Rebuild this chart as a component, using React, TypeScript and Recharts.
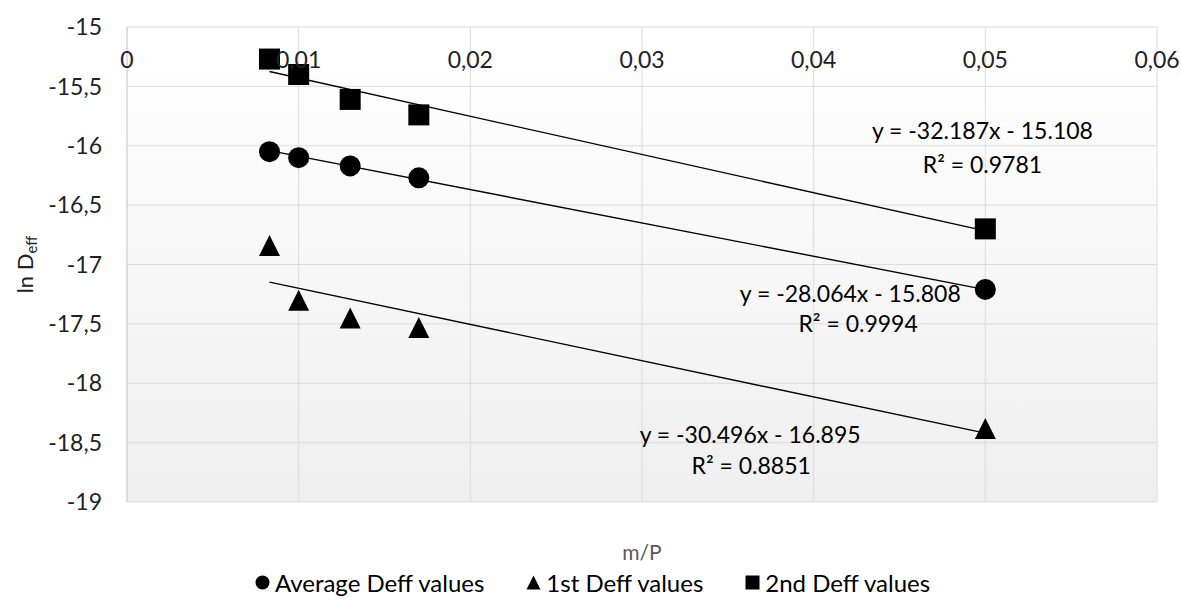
import { CartesianGrid, Legend, ReferenceDot, Scatter, ScatterChart, XAxis, YAxis } from "recharts";

const FONT = "Lato, 'Open Sans', sans-serif";

// m/P ratios and ln Deff readings for each run
const mpValues = [0.0083, 0.01, 0.013, 0.017, 0.05];
const averageDeff = [-16.05, -16.1, -16.17, -16.27, -17.21];
const firstDeff = [-16.84, -17.3, -17.45, -17.53, -18.38];
const secondDeff = [-15.27, -15.4, -15.61, -15.74, -16.7];

const seriesNames = ["Average Deff values", "1st Deff values", "2nd Deff values"];
const seriesMarkers = ["circle", "triangle", "square"];

// linear fits reported for each series
const trendSlopes = [-28.064, -30.496, -32.187];
const trendIntercepts = [-15.808, -16.895, -15.108];
const trendR2 = ["0.9994", "0.8851", "0.9781"];

const xTicks = [0, 0.01, 0.02, 0.03, 0.04, 0.05, 0.06];
const yTicks = [-15, -15.5, -16, -16.5, -17, -17.5, -18, -18.5, -19];

const seriesValues = [averageDeff, firstDeff, secondDeff];

// where each fit's equation and R² sit, in data units
const eqAnchors = [
  { eq: [0.04213, -17.265], r2: [0.04259, -17.518] },
  { eq: [0.0363, -18.453], r2: [0.03636, -18.714] },
  { eq: [0.04983, -15.893], r2: [0.04983, -16.179] },
];

// plot box in pixels, shared by the chart margins and the shaded backdrop
const W = 1181;
const H = 609;
const PLOT = { left: 127, top: 27, right: 1157, bottom: 502 };
const LEGEND_H = 30;
const LEGEND_GAP = 12;

const comma = (v: number) => String(v).replace(".", ",");

const points = (values: number[]) => mpValues.map((x, i) => ({ x, y: values[i] }));

const trendPoints = (i: number) => {
  const x0 = Math.min(...mpValues);
  const x1 = Math.max(...mpValues);
  return [x0, x1].map((x) => ({ x, y: trendSlopes[i] * x + trendIntercepts[i] }));
};

const equation = (i: number) =>
  `y = ${trendSlopes[i].toFixed(3)}x - ${Math.abs(trendIntercepts[i]).toFixed(3)}`;

const Marker = ({ cx, cy, kind, s = 21 }: any) => {
  const h = s / 2;
  if (kind === "circle") return <circle cx={cx} cy={cy} r={h} fill="#000" />;
  if (kind === "square") return <rect x={cx - h} y={cy - h} width={s} height={s} fill="#000" />;
  return <polygon points={`${cx},${cy - h} ${cx + h},${cy + h} ${cx - h},${cy + h}`} fill="#000" />;
};

// the value axis crosses at the top, so the m/P labels hang just under the -15 line
const HangingTick = ({ x, payload }: any) => (
  <text x={x} y={PLOT.top + 35} textAnchor="middle" dominantBaseline="middle" fontFamily={FONT} fontSize={23} fill="#222">
    {comma(payload.value)}
  </text>
);

const LegendBox = () => (
  <div
    style={{
      height: LEGEND_H,
      display: "flex",
      justifyContent: "center",
      alignItems: "center",
      gap: 42,
      paddingLeft: 4,
      fontFamily: FONT,
      fontSize: 24,
      color: "#000",
    }}
  >
    {seriesNames.map((name, i) => (
      <div key={name} style={{ display: "flex", alignItems: "center", gap: 5 }}>
        <svg width={15} height={15}>
          <Marker cx={7.5} cy={7.5} s={14} kind={seriesMarkers[i]} />
        </svg>
        <span>{name}</span>
      </div>
    ))}
  </div>
);

const AnnotationText = (text: string) => (p: any) => (
  <text x={p.cx} y={p.cy} textAnchor="middle" dominantBaseline="middle" fontFamily={FONT} fontSize={23} fill="#000">
    {text}
  </text>
);

export default function App() {
  return (
    <div style={{ position: "absolute", left: 0, top: 0, width: W, height: H, background: "#fff" }}>
      <div
        style={{
          position: "absolute",
          left: PLOT.left,
          top: PLOT.top,
          width: PLOT.right - PLOT.left,
          height: PLOT.bottom - PLOT.top,
          background: "linear-gradient(to bottom, #ffffff, #efefef)",
        }}
      />
      <ScatterChart
        width={W}
        height={H}
        margin={{ top: PLOT.top, right: W - PLOT.right, bottom: LEGEND_GAP, left: 0 }}
      >
        <CartesianGrid xAxisId="mp" stroke="#dcdcdc" />
        <XAxis
          xAxisId="mp"
          type="number"
          dataKey="x"
          domain={[0, 0.06]}
          ticks={xTicks}
          tick={<HangingTick />}
          tickLine={false}
          axisLine={false}
          interval={0}
          height={H - PLOT.bottom - LEGEND_GAP - LEGEND_H}
          label={({ viewBox }: any) => (
            <text
              x={viewBox.x + viewBox.width / 2}
              y={viewBox.y + 53}
              textAnchor="middle"
              dominantBaseline="middle"
              fontFamily={FONT}
              fontSize={21}
              fill="#595959"
            >
              m/P
            </text>
          )}
        />
        <YAxis
          type="number"
          dataKey="y"
          domain={[-19, -15]}
          ticks={yTicks}
          width={PLOT.left}
          tickLine={false}
          tickSize={6}
          tickMargin={19}
          axisLine={{ stroke: "#d0d0d0" }}
          tick={{ fontFamily: FONT, fontSize: 23, fill: "#222" }}
          tickFormatter={comma}
          interval={0}
          label={({ viewBox }: any) => (
            <text
              transform={`translate(27, ${viewBox.y + viewBox.height / 2}) rotate(-90)`}
              textAnchor="middle"
              dominantBaseline="middle"
              fontFamily={FONT}
              fontSize={22}
              fill="#222"
            >
              ln D<tspan dy={6} fontSize={15}>eff</tspan>
            </text>
          )}
        />
        {seriesValues.map((_, i) => (
          <Scatter
            key={`trend-${i}`}
            xAxisId="mp"
            data={trendPoints(i)}
            line={{ stroke: "#000", strokeWidth: 1.4 }}
            shape={() => <g />}
            legendType="none"
            isAnimationActive={false}
          />
        ))}
        {seriesValues.map((values, i) => (
          <Scatter
            key={seriesNames[i]}
            name={seriesNames[i]}
            xAxisId="mp"
            data={points(values)}
            fill="#000"
            shape={(p: any) => <Marker cx={p.cx} cy={p.cy} kind={seriesMarkers[i]} />}
            isAnimationActive={false}
          />
        ))}
        {eqAnchors.map((a, i) => (
          <ReferenceDot
            key={`eq-${i}`}
            xAxisId="mp"
            x={a.eq[0]}
            y={a.eq[1]}
            r={0}
            shape={AnnotationText(equation(i))}
          />
        ))}
        {eqAnchors.map((a, i) => (
          <ReferenceDot
            key={`r2-${i}`}
            xAxisId="mp"
            x={a.r2[0]}
            y={a.r2[1]}
            r={0}
            shape={AnnotationText(`R² = ${trendR2[i]}`)}
          />
        ))}
        <Legend verticalAlign="bottom" wrapperStyle={{ left: 0, width: W }} content={<LegendBox />} />
      </ScatterChart>
    </div>
  );
}
